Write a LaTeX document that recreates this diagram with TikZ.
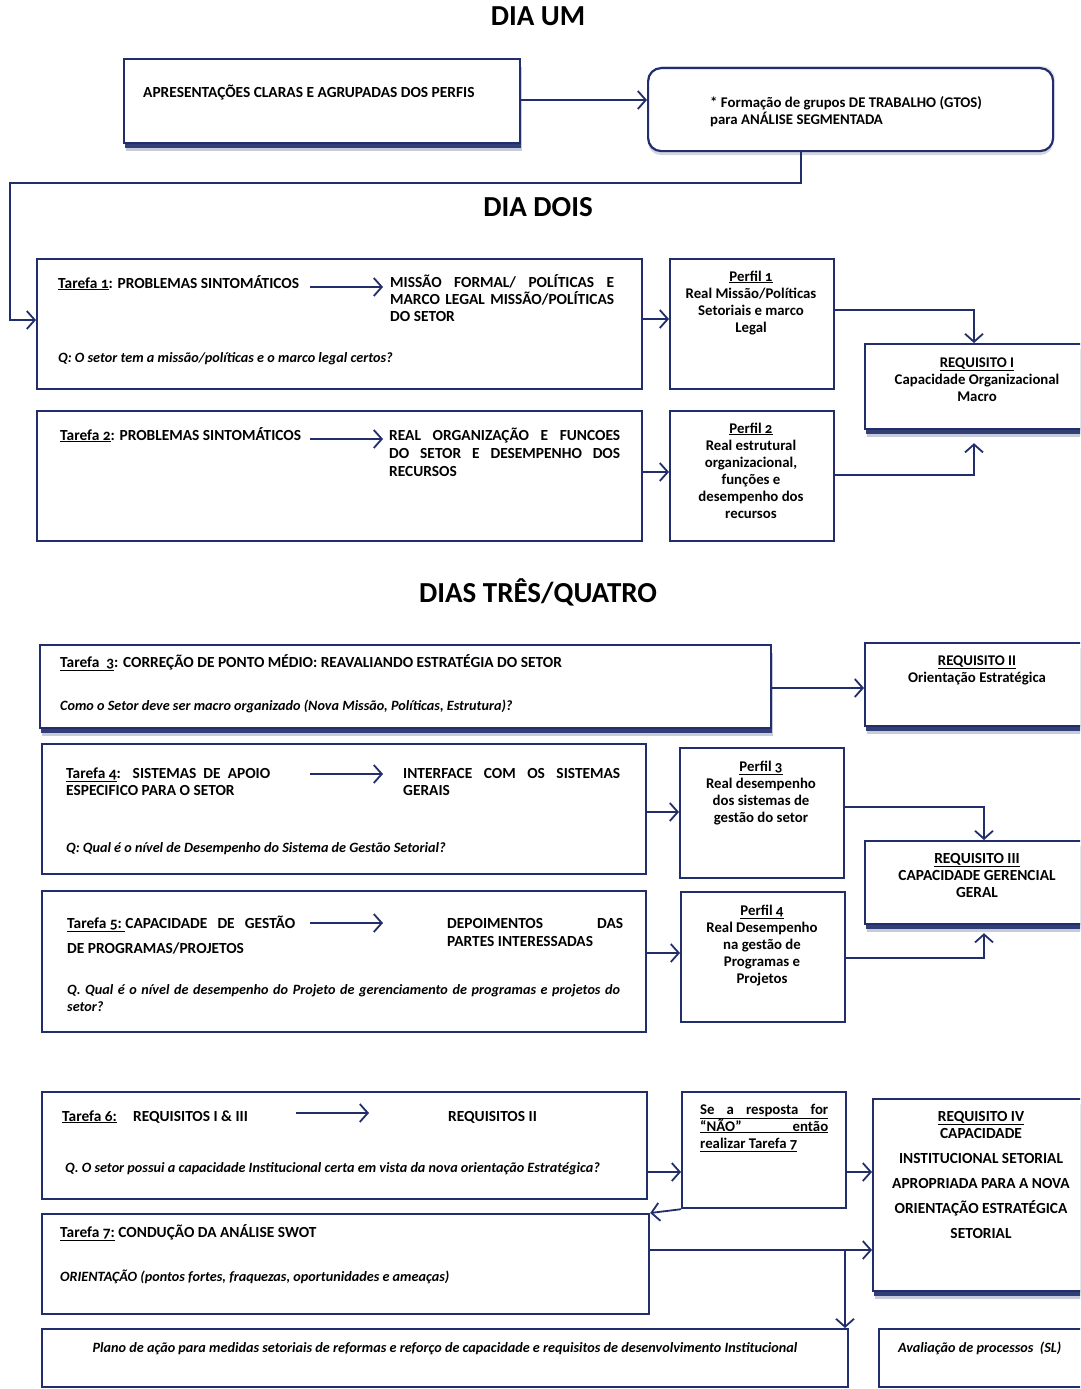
\documentclass[tikz,border=0pt]{standalone}
\usepackage{fontspec}
\setmainfont{Carlito}[Numbers=OldStyle]
\usetikzlibrary{arrows.meta,shadows}
\definecolor{navy}{RGB}{33,46,107}
\newcommand{\bodyf}{\fontsize{14.8}{17}\selectfont\bfseries}
\newcommand{\capf}{\fontsize{15.4}{17}\selectfont\bfseries}
\newcommand{\itf}{\fontsize{14.2}{17}\selectfont\bfseries\itshape}
\newcommand{\headf}{\fontsize{29}{31}\selectfont\bfseries}
\newcommand{\jl}[2]{\makebox[#1pt][s]{#2}}
\newcommand{\ul}[1]{\underline{#1}}
\begin{document}
\begin{tikzpicture}[x=1pt,y=-1pt,
  box/.style={draw=navy, line width=2.2pt, fill=white, rectangle, inner sep=0pt, anchor=north west},
  shbox/.style={box,
    drop shadow={shadow xshift=2pt, shadow yshift=-8pt, fill=navy, opacity=0.25},
    drop shadow={shadow xshift=1pt, shadow yshift=-5pt, fill=navy, opacity=0.9}},
  gbox/.style={box, rounded corners=13pt,
    drop shadow={shadow xshift=0pt, shadow yshift=-4pt, fill=navy, opacity=0.2},
    drop shadow={shadow xshift=2pt, shadow yshift=2pt, fill=navy, opacity=0.12}},
  arr/.style={draw=navy, line width=1.8pt, -{Straight Barb[length=8pt, width=18pt]}},
  tl/.style={anchor=base west, inner sep=0pt, font=\bodyf, align=left, text=black},
  tk/.style={tl, font=\capf},
  tc/.style={anchor=base, inner sep=0pt, font=\bodyf, align=center, text=black},
  tck/.style={tc, font=\capf},
  ti/.style={tl, font=\itf},
  head/.style={anchor=base, inner sep=0pt, font=\headf, text=black},
]
\useasboundingbox (0,0) rectangle (1080,1389);
\clip (0,0) rectangle (1080,1389);

% headings
\node[head] (h1) at (538,26) {DIA UM};
\node[head] (h2) at (538,216) {DIA DOIS};
\node[head] (h3) at (538,602) {DIAS TRÊS/QUATRO};

% boxes
\node[shbox, minimum width=396pt, minimum height=84pt] (A) at (123,58) {};
\node[gbox, minimum width=405pt, minimum height=83pt] (B) at (647,67) {};
\node[box, minimum width=605pt, minimum height=130pt] (T1) at (36,258) {};
\node[box, minimum width=164pt, minimum height=130pt] (P1) at (669,258) {};
\node[shbox, minimum width=230pt, minimum height=85pt] (R1) at (864,343) {};
\node[box, minimum width=605pt, minimum height=130pt] (T2) at (36,410) {};
\node[box, minimum width=164pt, minimum height=130pt] (P2) at (669,410) {};
\node[shbox, minimum width=731pt, minimum height=83pt] (T3) at (39,644) {};
\node[shbox, minimum width=230pt, minimum height=83pt] (R2) at (864,642) {};
\node[box, minimum width=604pt, minimum height=130pt] (T4) at (41,743) {};
\node[box, minimum width=164pt, minimum height=130pt] (P3) at (679,747) {};
\node[shbox, minimum width=230pt, minimum height=83pt] (R3) at (864,840) {};
\node[box, minimum width=604pt, minimum height=141pt] (T5) at (41,890) {};
\node[box, minimum width=164pt, minimum height=130pt] (P4) at (680,891) {};
\node[box, minimum width=605pt, minimum height=107pt] (T6) at (41,1091) {};
\node[box, minimum width=164pt, minimum height=116pt] (SE) at (681,1091) {};
\node[shbox, minimum width=222pt, minimum height=192pt] (R4) at (872,1098) {};
\node[box, minimum width=607pt, minimum height=100pt] (T7) at (41,1213) {};
\node[box, minimum width=806pt, minimum height=58pt] (PL) at (41,1328) {};
\node[box, minimum width=212pt, minimum height=58pt] (AV) at (878,1328) {};

% texts (multi-line nodes are placed by the baseline of their last line)
\node[tk] (tA) at (143,97) {APRESENTAÇÕES CLARAS E AGRUPADAS DOS PERFIS};
\node[tl] (tB) at (710,124) {* Formação de grupos DE TRABALHO (GTOS)\\para ANÁLISE SEGMENTADA};

\node[tk] (t1) at (58,288) {\ul{Tarefa 1}: PROBLEMAS SINTOMÁTICOS};
\node[tk] (t1r) at (390,321) {\jl{224}{MISSÃO FORMAL/ POLÍTICAS E}\\\jl{224}{MARCO LEGAL MISSÃO/POLÍTICAS}\\DO SETOR};
\node[ti] (q1) at (58,362) {Q: O setor tem a missão/políticas e o marco legal certos?};
\node[tc] (p1) at (751,332) {\ul{Perfil 1}\\Real Missão/Políticas\\Setoriais e marco\\Legal};
\node[tc] (r1) at (977,401) {\ul{REQUISITO I}\\Capacidade Organizacional\\Macro};

\node[tk] (t2) at (60,440) {\ul{Tarefa 2}: PROBLEMAS SINTOMÁTICOS};
\node[tk] (t2r) at (389,476) {\jl{231}{REAL ORGANIZAÇÃO E FUNCOES}\\[1pt]\jl{231}{DO SETOR E DESEMPENHO DOS}\\[1pt]RECURSOS};
\node[tc] (p2) at (751,518) {\ul{Perfil 2}\\Real estrutural\\organizacional,\\funções e\\desempenho dos\\recursos};

\node[tk] (t3) at (60,667) {\ul{Tarefa\ \ 3}: CORREÇÃO DE PONTO MÉDIO: REAVALIANDO ESTRATÉGIA DO SETOR};
\node[ti] (q3) at (60,710) {Como o Setor deve ser macro organizado (Nova Missão, Políticas, Estrutura)?};
\node[tc] (r2) at (977,682) {\ul{REQUISITO II}\\Orientação Estratégica};

\node[tk] (t4) at (66,795) {\jl{204}{\ul{Tarefa 4}: SISTEMAS DE APOIO}\\ESPECIFICO PARA O SETOR};
\node[tk] (t4r) at (403,795) {\jl{217}{INTERFACE COM OS SISTEMAS}\\GERAIS};
\node[ti] (q4) at (66,852) {Q: Qual é o nível de Desempenho do Sistema de Gestão Setorial?};
\node[tc] (p3) at (761,822) {\ul{Perfil 3}\\Real desempenho\\dos sistemas de\\gestão do setor};
\node[tck] (r3) at (977,897) {\ul{REQUISITO III}\\CAPACIDADE GERENCIAL\\GERAL};

\node[tk] (t5) at (67,953) {\jl{228}{\ul{Tarefa 5:\ }CAPACIDADE DE GESTÃO}\\[8pt]DE PROGRAMAS/PROJETOS};
\node[tk] (t5r) at (447,946) {\jl{176}{DEPOIMENTOS DAS}\\[1pt]PARTES INTERESSADAS};
\node[ti] (q5) at (67,1011) {\jl{553}{Q. Qual é o nível de desempenho do Projeto de gerenciamento de programas e projetos do}\\setor?};
\node[tc] (p4) at (762,983) {\ul{Perfil 4}\\Real Desempenho\\na gestão de\\Programas e\\Projetos};

\node[tk] (t6a) at (62,1121) {\ul{Tarefa\ 6:}};
\node[tk] (t6b) at (133,1121) {REQUISITOS I \& III};
\node[tk] (t6c) at (448,1121) {REQUISITOS II};
\node[ti] (q6) at (65,1172) {Q. O setor possui a capacidade Institucional certa em vista da nova orientação Estratégica?};
\node[tl] (se) at (700,1148) {\ul{\jl{128}{Se a resposta for}}\\\ul{\jl{128}{“NÃO” então}}\\\ul{realizar Tarefa 7}};
\node[tck] (r4) at (981,1238) {\ul{REQUISITO IV}\\CAPACIDADE\\[8pt]INSTITUCIONAL SETORIAL\\[8pt]APROPRIADA PARA A NOVA\\[8pt]ORIENTAÇÃO ESTRATÉGICA\\[8pt]SETORIAL};

\node[tk] (t7) at (60,1237) {\ul{Tarefa 7:} CONDUÇÃO DA ANÁLISE SWOT};
\node[ti] (q7) at (60,1281) {ORIENTAÇÃO (pontos fortes, fraquezas, oportunidades e ameaças)};
\node[ti, anchor=base] (pl) at (445,1352) {Plano de ação para medidas setoriais de reformas e reforço de capacidade e requisitos de desenvolvimento Institucional};
\node[ti] (av) at (898,1352) {Avaliação de processos\ \ (SL)};

% arrows inside task boxes
\coordinate (a1s) at (310,287); \coordinate (a1e) at (383,287);
\coordinate (a2s) at (310,439); \coordinate (a2e) at (383,439);
\coordinate (a4s) at (310,774); \coordinate (a4e) at (383,774);
\coordinate (a5s) at (310,923); \coordinate (a5e) at (383,923);
\coordinate (a6s) at (296,1113); \coordinate (a6e) at (369,1113);
\draw[arr] (a1s) -- (a1e);
\draw[arr] (a2s) -- (a2e);
\draw[arr] (a4s) -- (a4e);
\draw[arr] (a5s) -- (a5e);
\draw[arr] (a6s) -- (a6e);

% connectors
\draw[arr] (A.east |- 0,100) -- (B.west |- 0,100);
\draw[arr] (B.south -| 801,0) -- ++(0,31) -| (10,320) -- (T1.west |- 0,320);
\draw[arr] (T1.east |- 0,319) -- (P1.west |- 0,319);
\draw[arr] (P1.east |- 0,310) -| (R1.north -| 974,0);
\coordinate (r1b) at ([yshift=-13pt]R1.south);
\draw[arr] (T2.east |- 0,472) -- (P2.west |- 0,472);
\draw[arr] (P2.east |- 0,475) -| (r1b -| 974,0);
\draw[arr] (T3.east |- 0,688) -- (R2.west |- 0,688);
\draw[arr] (T4.east |- 0,812) -- (P3.west |- 0,812);
\draw[arr] (P3.east |- 0,807) -| (R3.north -| 984,0);
\coordinate (r3b) at ([yshift=-8pt]R3.south);
\draw[arr] (T5.east |- 0,953) -- (P4.west |- 0,953);
\draw[arr] (P4.east |- 0,958) -| (r3b -| 984,0);
\draw[arr] (T6.east |- 0,1172) -- (SE.west |- 0,1172);
\draw[arr] (SE.east |- 0,1172) -- (R4.west |- 0,1172);
\draw[arr] (SE.south west) -- (T7.north east);
\draw[arr] (T7.east |- 0,1250) -- (R4.west |- 0,1250);
\coordinate (br) at (845,1250);
\draw[arr] (br) -- (br |- PL.north);
\end{tikzpicture}
\end{document}
